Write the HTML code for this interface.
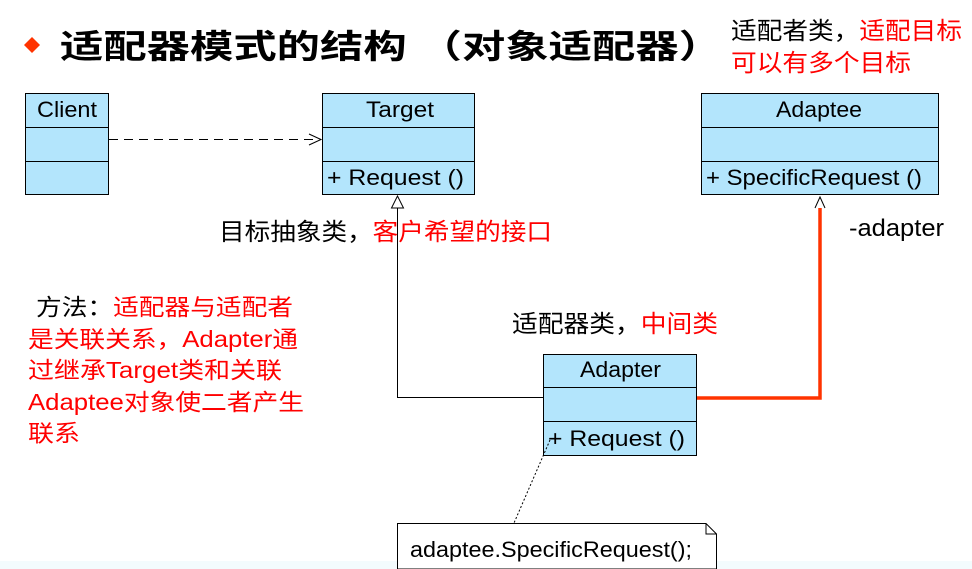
<!DOCTYPE html>
<html><head><meta charset="utf-8">
<style>
html,body{margin:0;padding:0;background:#fff;}
svg{display:block;}
text{font-family:"Liberation Sans","Noto Sans CJK SC",sans-serif;}
</style></head><body>
<svg width="972" height="569" viewBox="0 0 972 569" xmlns="http://www.w3.org/2000/svg">
<rect x="0" y="561" width="972" height="8" fill="#f3fbfd"/>
<polygon points="32,37 40,45 32,53 24,45" fill="#ff3300"/>
<text x="60" y="58" font-size="33" font-weight="bold" fill="#000" font-family="'Noto Serif CJK SC','Noto Sans CJK SC',serif" textLength="662" lengthAdjust="spacingAndGlyphs">适配器模式的结构 （对象适配器）</text>
<text x="731" y="39" font-size="24" fill="#000" textLength="231" lengthAdjust="spacingAndGlyphs">适配者类，<tspan fill="#ff0000">适配目标</tspan></text>
<text x="731" y="71" font-size="24" fill="#ff0000" textLength="180" lengthAdjust="spacingAndGlyphs">可以有多个目标</text>

<g stroke="#000" stroke-width="1" fill="#b3e5fc">
<rect x="25.5" y="93.5" width="83" height="101"/>
<line x1="25" y1="127.5" x2="108" y2="127.5"/><line x1="25" y1="161.5" x2="108" y2="161.5"/>
<rect x="322.5" y="93.5" width="152" height="101"/>
<line x1="322" y1="127.5" x2="474" y2="127.5"/><line x1="322" y1="161.5" x2="474" y2="161.5"/>
<rect x="701.5" y="93.5" width="237" height="101"/>
<line x1="701" y1="127.5" x2="938" y2="127.5"/><line x1="701" y1="161.5" x2="938" y2="161.5"/>
<rect x="543.5" y="354.5" width="153" height="101"/>
<line x1="543" y1="387.5" x2="696" y2="387.5"/><line x1="543" y1="421.5" x2="696" y2="421.5"/>
</g>
<g font-size="22" fill="#000">
<text x="37" y="117" textLength="60" lengthAdjust="spacingAndGlyphs">Client</text>
<text x="366" y="117" textLength="68" lengthAdjust="spacingAndGlyphs">Target</text>
<text x="327" y="185" textLength="137" lengthAdjust="spacingAndGlyphs">+  Request ()</text>
<text x="776" y="117" textLength="86" lengthAdjust="spacingAndGlyphs">Adaptee</text>
<text x="706" y="185" textLength="216" lengthAdjust="spacingAndGlyphs">+  SpecificRequest ()</text>
<text x="580" y="377" textLength="81" lengthAdjust="spacingAndGlyphs">Adapter</text>
<text x="548" y="446" textLength="137" lengthAdjust="spacingAndGlyphs">+  Request ()</text>
</g>
<line x1="109" y1="139.5" x2="318" y2="139.5" stroke="#000" stroke-dasharray="9,6"/>
<polyline points="309,134 321,139.5 309,145" fill="none" stroke="#000"/>
<polyline points="397.5,208 397.5,397.5 543,397.5" fill="none" stroke="#000"/>
<polygon points="397.5,196 391.5,208 403.5,208" fill="#fff" stroke="#000"/>
<polyline points="697,398 820,398 820,208" fill="none" stroke="#ff3300" stroke-width="3.5"/>
<polyline points="815,208 820,197 825,208" fill="none" stroke="#000"/>
<text x="849" y="236" font-size="24" fill="#000" textLength="95" lengthAdjust="spacingAndGlyphs">-adapter</text>
<text x="219" y="240" font-size="24" fill="#000" textLength="333" lengthAdjust="spacingAndGlyphs">目标抽象类，<tspan fill="#ff0000">客户希望的接口</tspan></text>
<text x="512" y="332" font-size="24" fill="#000" textLength="206" lengthAdjust="spacingAndGlyphs">适配器类，<tspan fill="#ff0000">中间类</tspan></text>
<g font-size="23" fill="#ff0000">
<text x="36" y="315" textLength="257" lengthAdjust="spacingAndGlyphs"><tspan fill="#000">方法：</tspan>适配器与适配者</text>
<text x="28" y="347" textLength="270" lengthAdjust="spacingAndGlyphs">是关联关系，Adapter通</text>
<text x="28" y="378" textLength="254" lengthAdjust="spacingAndGlyphs">过继承Target类和关联</text>
<text x="28" y="410" textLength="276" lengthAdjust="spacingAndGlyphs">Adaptee对象使二者产生</text>
<text x="28" y="441" textLength="52" lengthAdjust="spacingAndGlyphs">联系</text>
</g>
<line x1="550" y1="440" x2="514" y2="523" stroke="#000" stroke-dasharray="2,2"/>
<polygon points="397.5,569 397.5,523.5 706,523.5 716.5,534 716.5,569" fill="#fff" stroke="#000"/>
<polyline points="706,523.5 706,534 716.5,534" fill="none" stroke="#000"/>
<text x="410" y="557" font-size="22" fill="#000" textLength="282" lengthAdjust="spacingAndGlyphs">adaptee.SpecificRequest();</text>
</svg>
</body></html>
